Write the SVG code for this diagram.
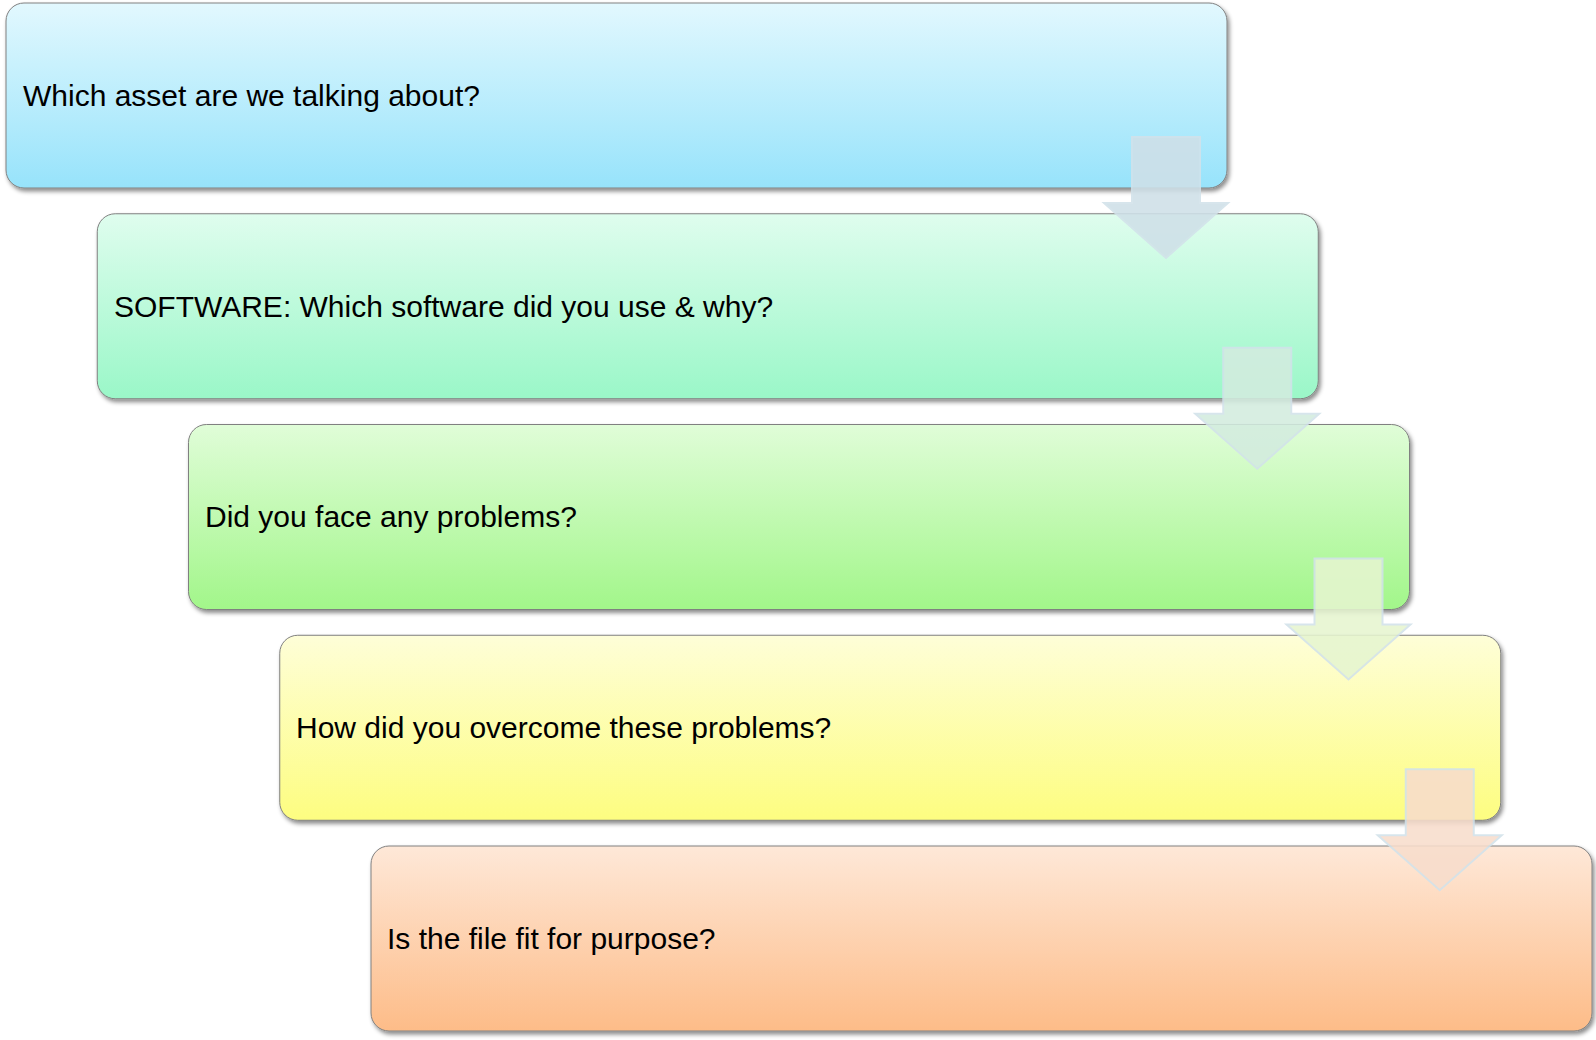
<svg xmlns="http://www.w3.org/2000/svg" width="1596" height="1040" viewBox="0 0 1596 1040">
<defs>
<linearGradient id="g1" x1="0" y1="0" x2="0" y2="1"><stop offset="0" stop-color="#e2f8fe"/><stop offset="1" stop-color="#97e3fb"/></linearGradient>
<linearGradient id="g2" x1="0" y1="0" x2="0" y2="1"><stop offset="0" stop-color="#dffdee"/><stop offset="1" stop-color="#9af7c8"/></linearGradient>
<linearGradient id="g3" x1="0" y1="0" x2="0" y2="1"><stop offset="0" stop-color="#e0fdd8"/><stop offset="1" stop-color="#a2f68a"/></linearGradient>
<linearGradient id="g4" x1="0" y1="0" x2="0" y2="1"><stop offset="0" stop-color="#fefed8"/><stop offset="1" stop-color="#fdfd80"/></linearGradient>
<linearGradient id="g5" x1="0" y1="0" x2="0" y2="1"><stop offset="0" stop-color="#fee8d8"/><stop offset="1" stop-color="#fdbc88"/></linearGradient>
<filter id="sh" x="-5%" y="-10%" width="110%" height="125%">
<feDropShadow dx="2" dy="3" stdDeviation="2" flood-color="#000" flood-opacity="0.45"/>
</filter>
<path id="arr" d="M28,0 H96 V66 H124 L62,121 L0,66 H28 Z"/>
</defs>
<style>
.box{stroke:#808080;stroke-width:1;filter:url(#sh)}
.lbl{font-family:"Liberation Sans",Arial,sans-serif;font-size:30px;fill:#000}
.arrow{stroke:#d2e2ea;stroke-width:2;stroke-linejoin:miter;opacity:0.88}
</style>
<g id="node1"><rect class="box" x="6" y="3" width="1221" height="185" rx="18" fill="url(#g1)"/><text class="lbl" x="23" y="106">Which asset are we talking about?</text></g>
<g id="node2"><rect class="box" x="97.25" y="213.75" width="1221" height="185" rx="18" fill="url(#g2)"/><text class="lbl" x="114" y="317">SOFTWARE: Which software did you use &amp; why?</text></g>
<g id="node3"><rect class="box" x="188.5" y="424.5" width="1221" height="185" rx="18" fill="url(#g3)"/><text class="lbl" x="205" y="527">Did you face any problems?</text></g>
<g id="node4"><rect class="box" x="279.75" y="635.25" width="1221" height="185" rx="18" fill="url(#g4)"/><text class="lbl" x="296" y="738">How did you overcome these problems?</text></g>
<g id="node5"><rect class="box" x="371" y="846" width="1221" height="185" rx="18" fill="url(#g5)"/><text class="lbl" x="387" y="949">Is the file fit for purpose?</text></g>
<g id="connectors">
<use href="#arr" class="arrow" fill="#cfe0e8" transform="translate(1104,137)"/>
<use href="#arr" class="arrow" fill="#d3ecdf" transform="translate(1195.25,347.75)"/>
<use href="#arr" class="arrow" fill="#e6f5d0" transform="translate(1286.5,558.5)"/>
<use href="#arr" class="arrow" fill="#f8ddcc" transform="translate(1377.75,769.25)"/>
</g>
</svg>
